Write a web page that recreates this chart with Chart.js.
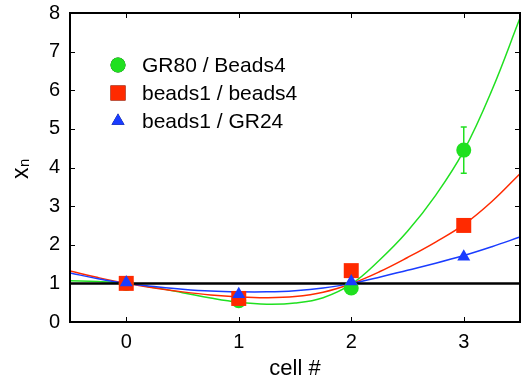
<!DOCTYPE html>
<html>
<head>
<meta charset="utf-8">
<script src="https://cdn.jsdelivr.net/npm/chart.js@4.4.0/dist/chart.umd.min.js"></script>
<style>
  body { margin: 0; background: #fff; }
  canvas { display: block; }
</style>
</head>
<body>
<canvas id="ratioChart" width="521" height="386"></canvas>
<script>
// measured ratios per cell
const cells = [0, 1, 2, 3];
const gr80Beads4 = [1.0, 0.55, 0.88, 4.45];
const gr80Err = [0, 0, 0, 0.6];
const beads1Beads4 = [1.0, 0.61, 1.33, 2.5];
const beads1Gr24 = [1.02, 0.72, 1.05, 1.69];

// fitted curves
const fitX = [-0.5, -0.25, 0, 0.25, 0.5, 0.75, 1, 1.25, 1.5, 1.75, 2, 2.25, 2.5, 2.75, 3, 3.25, 3.5];
const fitGreen = [1.07, 1.05, 1.0, 0.89, 0.76, 0.62, 0.51, 0.46, 0.49, 0.63, 0.98, 1.6, 2.35, 3.28, 4.43, 6.0, 7.87];
const fitRed = [1.32, 1.15, 1.0, 0.88, 0.78, 0.7, 0.65, 0.63, 0.66, 0.77, 0.99, 1.3, 1.67, 2.07, 2.52, 3.12, 3.84];
const fitBlue = [1.27, 1.12, 1.0, 0.92, 0.85, 0.8, 0.78, 0.78, 0.81, 0.88, 1.0, 1.16, 1.34, 1.52, 1.72, 1.95, 2.2];

const refX = [-0.5, 3.5];
const refY = [1, 1];

const xTicks = [0, 1, 2, 3];
const yTicks = [0, 1, 2, 3, 4, 5, 6, 7, 8];

const GREEN = "#20e020";
const RED = "#ff2a00";
const BLUE = "#1a3cff";
const FONT = "'Liberation Sans', Arial, sans-serif";

const pts = (xs, ys) => xs.map((x, i) => ({ x: x, y: ys[i] }));

const curve = (ys, color, order) => ({
    label: "fit",
    data: pts(fitX, ys),
    showLine: true,
    borderColor: color,
    borderWidth: 1.5,
    pointRadius: 0,
    tension: 0.4,
    order: order
});

const legendItems = [
    { text: "GR80 / Beads4", style: "circle", radius: 7.5, color: GREEN },
    { text: "beads1 / beads4", style: "rect", radius: 10.6, color: RED },
    { text: "beads1 / GR24", style: "triangle", radius: 7.5, color: BLUE }
];

const noPad = s => {
    s.paddingLeft = 0; s.paddingRight = 0;
    s.paddingTop = 0; s.paddingBottom = 0;
};

// frame with inward ticks on all four sides
const framePlugin = {
    id: "frame",
    afterDraw(chart) {
        const { ctx, chartArea: a, scales } = chart;
        ctx.save();
        ctx.strokeStyle = "#000";
        ctx.lineWidth = 1;
        xTicks.forEach(v => {
            const px = Math.round(scales.x.getPixelForValue(v)) + 0.5;
            ctx.beginPath();
            ctx.moveTo(px, a.bottom); ctx.lineTo(px, a.bottom - 5);
            ctx.moveTo(px, a.top); ctx.lineTo(px, a.top + 5);
            ctx.stroke();
        });
        yTicks.forEach(v => {
            const py = Math.round(scales.y.getPixelForValue(v)) + 0.5;
            ctx.beginPath();
            ctx.moveTo(a.left, py); ctx.lineTo(a.left + 5, py);
            ctx.moveTo(a.right, py); ctx.lineTo(a.right - 5, py);
            ctx.stroke();
        });
        ctx.lineWidth = 2;
        ctx.strokeRect(a.left, a.top, a.right - a.left, a.bottom - a.top);
        ctx.restore();
    }
};

// error bar on the GR80 series
const errorPlugin = {
    id: "errors",
    afterDatasetsDraw(chart) {
        const { ctx, scales } = chart;
        ctx.save();
        ctx.strokeStyle = GREEN;
        ctx.lineWidth = 1.5;
        cells.forEach((c, i) => {
            if (!gr80Err[i]) return;
            const px = scales.x.getPixelForValue(c);
            const lo = scales.y.getPixelForValue(gr80Beads4[i] - gr80Err[i]);
            const hi = scales.y.getPixelForValue(gr80Beads4[i] + gr80Err[i]);
            ctx.beginPath();
            ctx.moveTo(px, lo); ctx.lineTo(px, hi);
            ctx.moveTo(px - 3, lo); ctx.lineTo(px + 3, lo);
            ctx.moveTo(px - 3, hi); ctx.lineTo(px + 3, hi);
            ctx.stroke();
        });
        ctx.restore();
    }
};

// legend inside the plot and the rotated y title
const labelPlugin = {
    id: "labels",
    afterDraw(chart) {
        const ctx = chart.ctx;
        ctx.save();
        legendItems.forEach((item, i) => {
            const y = 65 + i * 28;
            Chart.helpers.drawPoint(ctx, {
                pointStyle: item.style,
                radius: item.radius,
                rotation: 0,
                borderWidth: 0
            }, 118, y);
            ctx.fillStyle = item.color;
            ctx.fill();
            ctx.fillStyle = "#000";
            ctx.font = "21px " + FONT;
            ctx.textAlign = "left";
            ctx.textBaseline = "middle";
            ctx.fillText(item.text, 142, y + 1);
        });

        ctx.translate(28, 179);
        ctx.rotate(-Math.PI / 2);
        ctx.fillStyle = "#000";
        ctx.textAlign = "left";
        ctx.textBaseline = "alphabetic";
        ctx.font = "23px " + FONT;
        ctx.fillText("x", 0, 0);
        ctx.font = "15px " + FONT;
        ctx.fillText("n", 12, 1);
        ctx.restore();
    }
};

new Chart(document.getElementById("ratioChart"), {
    type: "scatter",
    data: {
        datasets: [
            {
                label: "beads1 / GR24",
                data: pts(cells, beads1Gr24),
                pointStyle: "triangle",
                pointRadius: 7.5,
                backgroundColor: BLUE,
                borderWidth: 0,
                order: 1
            },
            {
                label: "beads1 / beads4",
                data: pts(cells, beads1Beads4),
                pointStyle: "rect",
                pointRadius: 10.6,
                backgroundColor: RED,
                borderWidth: 0,
                order: 2
            },
            {
                label: "GR80 / Beads4",
                data: pts(cells, gr80Beads4),
                pointStyle: "circle",
                pointRadius: 7.5,
                backgroundColor: GREEN,
                borderWidth: 0,
                order: 3
            },
            {
                label: "ref",
                data: pts(refX, refY),
                showLine: true,
                borderColor: "#000",
                borderWidth: 2.5,
                pointRadius: 0,
                order: 4
            },
            curve(fitBlue, BLUE, 5),
            curve(fitRed, RED, 6),
            curve(fitGreen, GREEN, 7)
        ]
    },
    options: {
        responsive: false,
        animation: false,
        layout: { autoPadding: false, padding: { top: 13, right: 1, left: 0, bottom: 0 } },
        plugins: {
            legend: { display: false },
            tooltip: { enabled: false }
        },
        scales: {
            x: {
                type: "linear",
                min: -0.5,
                max: 3.5,
                afterBuildTicks: s => { s.ticks = xTicks.map(v => ({ value: v })); },
                afterFit: s => { s.height = 64; noPad(s); },
                grid: { display: false, drawTicks: false },
                border: { display: false },
                ticks: { color: "#000", padding: 8, font: { family: FONT, size: 20 } },
                title: {
                    display: true,
                    text: "cell #",
                    color: "#000",
                    padding: { top: 0, bottom: 4 },
                    font: { family: FONT, size: 22 }
                }
            },
            y: {
                type: "linear",
                min: 0,
                max: 8,
                afterBuildTicks: s => { s.ticks = yTicks.map(v => ({ value: v })); },
                afterFit: s => { s.width = 70; noPad(s); },
                grid: { display: false, drawTicks: false },
                border: { display: false },
                ticks: { color: "#000", padding: 10, font: { family: FONT, size: 20 } }
            }
        }
    },
    plugins: [errorPlugin, framePlugin, labelPlugin]
});
</script>
</body>
</html>
